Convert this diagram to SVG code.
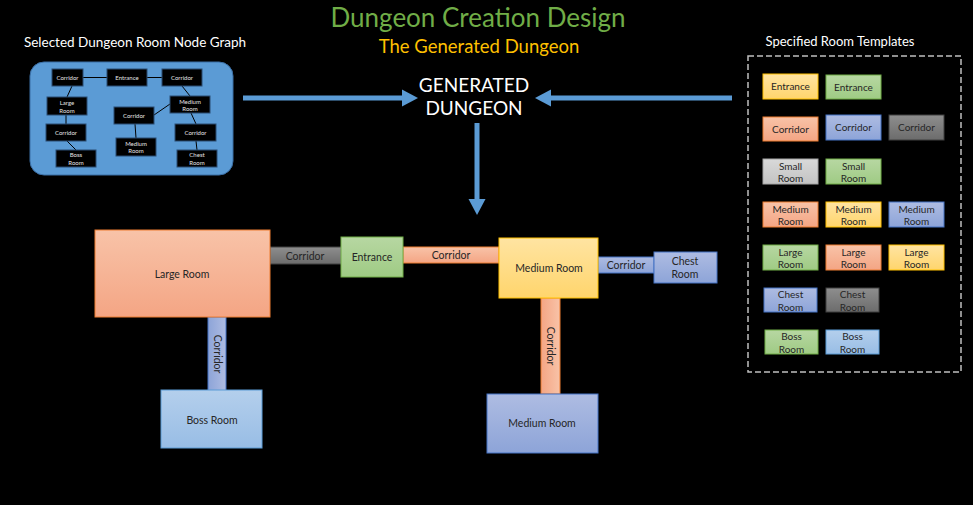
<svg xmlns="http://www.w3.org/2000/svg" width="973" height="505" viewBox="0 0 973 505">
<defs>
<linearGradient id="gOr" x1="0" y1="0" x2="0" y2="1"><stop offset="0" stop-color="#F8C3A8"/><stop offset="1" stop-color="#F4A584"/></linearGradient>
<linearGradient id="gGr" x1="0" y1="0" x2="0" y2="1"><stop offset="0" stop-color="#B7D7A2"/><stop offset="1" stop-color="#9FCB84"/></linearGradient>
<linearGradient id="gYe" x1="0" y1="0" x2="0" y2="1"><stop offset="0" stop-color="#FFE4A2"/><stop offset="1" stop-color="#FFD56C"/></linearGradient>
<linearGradient id="gBl" x1="0" y1="0" x2="0" y2="1"><stop offset="0" stop-color="#AEBCE2"/><stop offset="1" stop-color="#8DA4D8"/></linearGradient>
<linearGradient id="gLb" x1="0" y1="0" x2="0" y2="1"><stop offset="0" stop-color="#B4CFEC"/><stop offset="1" stop-color="#98BDE5"/></linearGradient>
<linearGradient id="gDg" x1="0" y1="0" x2="0" y2="1"><stop offset="0" stop-color="#8E8E8E"/><stop offset="1" stop-color="#6C6C6C"/></linearGradient>
<linearGradient id="gLg" x1="0" y1="0" x2="0" y2="1"><stop offset="0" stop-color="#D9D9D9"/><stop offset="1" stop-color="#C3C3C3"/></linearGradient>
<linearGradient id="gBlV" x1="0" y1="0" x2="1" y2="0"><stop offset="0" stop-color="#8DA4D8"/><stop offset="1" stop-color="#AEBCE2"/></linearGradient>
<linearGradient id="gOrV" x1="0" y1="0" x2="1" y2="0"><stop offset="0" stop-color="#F4A584"/><stop offset="1" stop-color="#F8C3A8"/></linearGradient>
<marker id="ah" markerUnits="userSpaceOnUse" markerWidth="16" markerHeight="17" refX="0" refY="8.5" orient="auto" overflow="visible">
<path d="M0,0 L16,8.5 L0,17 Z" fill="#5B9BD5"/>
</marker>
</defs>
<style>
text{font-family:Lato,"Open Sans","Liberation Sans",sans-serif;}
.t{font-size:10px;fill:#262626;text-anchor:middle;}
.m{font-size:10.5px;fill:#262626;text-anchor:middle;}
.n{font-size:6px;fill:#E6E6E6;text-anchor:middle;}
.nb{fill:#000;stroke:#2B4C73;stroke-width:1;}
.or{fill:url(#gOr);stroke:#ED7D31;stroke-width:1;}
.gr{fill:url(#gGr);stroke:#70AD47;stroke-width:1;}
.ye{fill:url(#gYe);stroke:#FFC000;stroke-width:1;}
.bl{fill:url(#gBl);stroke:#4472C4;stroke-width:1;}
.lb{fill:url(#gLb);stroke:#5B9BD5;stroke-width:1;}
.dg{fill:url(#gDg);stroke:#404040;stroke-width:1;}
.lg{fill:url(#gLg);stroke:#A5A5A5;stroke-width:1;}
.arr{stroke:#5B9BD5;stroke-width:5;fill:none;marker-end:url(#ah);}
.gl{stroke:#000;stroke-width:1;fill:none;}
</style>
<rect width="973" height="505" fill="#000"/>

<g id="titles">
<text x="478" y="27" font-size="26" fill="#70AD47" text-anchor="middle">Dungeon Creation Design</text>
<text x="479" y="53" font-size="18.5" fill="#FFC000" text-anchor="middle">The Generated Dungeon</text>
<text x="135" y="47" font-size="13.5" fill="#FFFFFF" text-anchor="middle">Selected Dungeon Room Node Graph</text>
<text x="840" y="46" font-size="13" fill="#FFFFFF" text-anchor="middle">Specified Room Templates</text>
</g>

<g id="generated-dungeon">
<text x="474" y="92" font-size="19" fill="#FFFFFF" text-anchor="middle">GENERATED</text>
<text x="474" y="115" font-size="19" fill="#FFFFFF" text-anchor="middle">DUNGEON</text>
</g>

<g id="connectors">
<line class="arr" x1="243" y1="98" x2="402" y2="98"/>
<line class="arr" x1="732" y1="98" x2="551" y2="98"/>
<line class="arr" x1="477" y1="123" x2="477" y2="199"/>
</g>

<g id="node-graph">
<rect x="30" y="62" width="203" height="113" rx="14" fill="#5B9BD5" stroke="#3A6EA5" stroke-width="1"/>
<g id="graph-edges">
<line class="gl" x1="83" y1="77.5" x2="107" y2="77.5"/>
<line class="gl" x1="147" y1="77.5" x2="162" y2="77.5"/>
<line class="gl" x1="72" y1="86" x2="67" y2="97"/>
<line class="gl" x1="66" y1="115" x2="66" y2="124"/>
<line class="gl" x1="67" y1="141" x2="76" y2="150"/>
<line class="gl" x1="182" y1="86" x2="190" y2="96"/>
<line class="gl" x1="170" y1="104" x2="154" y2="115"/>
<line class="gl" x1="135" y1="124" x2="136" y2="138"/>
<line class="gl" x1="191" y1="113" x2="196" y2="124"/>
<line class="gl" x1="196" y1="141" x2="197" y2="150"/>
</g>
<g id="g-corridor1"><rect class="nb" x="52" y="69" width="31" height="17"/><text class="n" x="67.5" y="79.5">Corridor</text></g>
<g id="g-entrance"><rect class="nb" x="107" y="69" width="40" height="17"/><text class="n" x="127" y="79.5">Entrance</text></g>
<g id="g-corridor2"><rect class="nb" x="162" y="69" width="40" height="17"/><text class="n" x="182" y="79.5">Corridor</text></g>
<g id="g-large"><rect class="nb" x="47" y="97" width="40" height="18"/><text class="n" x="67" y="104.5">Large</text><text class="n" x="67" y="112.5">Room</text></g>
<g id="g-corridor3"><rect class="nb" x="46" y="124" width="40" height="17"/><text class="n" x="66" y="134.5">Corridor</text></g>
<g id="g-boss"><rect class="nb" x="56" y="150" width="40" height="17"/><text class="n" x="76" y="157">Boss</text><text class="n" x="76" y="165">Room</text></g>
<g id="g-medium1"><rect class="nb" x="170" y="96" width="40" height="17"/><text class="n" x="190" y="103.5">Medium</text><text class="n" x="190" y="110.5">Room</text></g>
<g id="g-corridor4"><rect class="nb" x="114" y="107" width="40" height="17"/><text class="n" x="134" y="117.5">Corridor</text></g>
<g id="g-medium2"><rect class="nb" x="116" y="138" width="40" height="18"/><text class="n" x="136" y="145.5">Medium</text><text class="n" x="136" y="152.5">Room</text></g>
<g id="g-corridor5"><rect class="nb" x="175" y="124" width="41" height="17"/><text class="n" x="195.5" y="134.5">Corridor</text></g>
<g id="g-chest"><rect class="nb" x="177" y="150" width="40" height="17"/><text class="n" x="197" y="157">Chest</text><text class="n" x="197" y="165">Room</text></g>
</g>

<g id="templates">
<rect x="748" y="56" width="213" height="316" fill="none" stroke="#BFBFBF" stroke-width="1.5" stroke-dasharray="6 3"/>
<g id="t-entrance-ye"><rect class="ye" x="763" y="74" width="55" height="25"/><text class="t" x="790.5" y="90">Entrance</text></g>
<g id="t-entrance-gr"><rect class="gr" x="826" y="75" width="55" height="24"/><text class="t" x="853.5" y="91">Entrance</text></g>
<g id="t-corridor-or"><rect class="or" x="763" y="117" width="55" height="24"/><text class="t" x="790.5" y="132.5">Corridor</text></g>
<g id="t-corridor-bl"><rect class="bl" x="826" y="115" width="55" height="25"/><text class="t" x="853.5" y="131">Corridor</text></g>
<g id="t-corridor-dg"><rect class="dg" x="889" y="115" width="55" height="25"/><text class="t" x="916.5" y="131">Corridor</text></g>
<g id="t-small-lg"><rect class="lg" x="763" y="159" width="55" height="25"/><text class="t" x="790.5" y="169.5">Small</text><text class="t" x="790.5" y="182">Room</text></g>
<g id="t-small-gr"><rect class="gr" x="826" y="159" width="55" height="25"/><text class="t" x="853.5" y="169.5">Small</text><text class="t" x="853.5" y="182">Room</text></g>
<g id="t-medium-or"><rect class="or" x="763" y="202" width="55" height="25"/><text class="t" x="790.5" y="212.5">Medium</text><text class="t" x="790.5" y="224.5">Room</text></g>
<g id="t-medium-ye"><rect class="ye" x="826" y="202" width="55" height="25"/><text class="t" x="853.5" y="212.5">Medium</text><text class="t" x="853.5" y="224.5">Room</text></g>
<g id="t-medium-bl"><rect class="bl" x="889" y="202" width="55" height="25"/><text class="t" x="916.5" y="212.5">Medium</text><text class="t" x="916.5" y="224.5">Room</text></g>
<g id="t-large-gr"><rect class="gr" x="763" y="245" width="55" height="25"/><text class="t" x="790.5" y="255.5">Large</text><text class="t" x="790.5" y="267.5">Room</text></g>
<g id="t-large-or"><rect class="or" x="826" y="245" width="55" height="25"/><text class="t" x="853.5" y="255.5">Large</text><text class="t" x="853.5" y="267.5">Room</text></g>
<g id="t-large-ye"><rect class="ye" x="889" y="245" width="55" height="25"/><text class="t" x="916.5" y="255.5">Large</text><text class="t" x="916.5" y="267.5">Room</text></g>
<g id="t-chest-bl"><rect class="bl" x="764" y="288" width="53" height="24"/><text class="t" x="790.5" y="298">Chest</text><text class="t" x="790.5" y="310.5">Room</text></g>
<g id="t-chest-dg"><rect class="dg" x="826" y="288" width="53" height="24"/><text class="t" x="852.5" y="298">Chest</text><text class="t" x="852.5" y="310.5">Room</text></g>
<g id="t-boss-gr"><rect class="gr" x="765" y="330" width="53" height="24"/><text class="t" x="791.5" y="340">Boss</text><text class="t" x="791.5" y="352.5">Room</text></g>
<g id="t-boss-lb"><rect class="lb" x="826" y="330" width="53" height="24"/><text class="t" x="852.5" y="340">Boss</text><text class="t" x="852.5" y="352.5">Room</text></g>
</g>

<g id="dungeon">
<g id="d-corridor-gray"><rect class="dg" x="270" y="247" width="72" height="17"/><text class="m" x="305" y="259.5">Corridor</text></g>
<g id="d-corridor-orange"><rect class="or" x="403" y="247" width="96" height="16"/><text class="m" x="451" y="259">Corridor</text></g>
<g id="d-corridor-blue-h"><rect class="bl" x="598" y="257" width="56" height="16"/><text class="m" x="626" y="269">Corridor</text></g>
<g id="d-corridor-blue-v"><rect x="208" y="317" width="18" height="74" fill="url(#gBlV)" stroke="#4472C4" stroke-width="1"/><text class="m" transform="translate(213.5,354) rotate(90)" x="0" y="0">Corridor</text></g>
<g id="d-corridor-orange-v"><rect x="541" y="298" width="19" height="96" fill="url(#gOrV)" stroke="#ED7D31" stroke-width="1"/><text class="m" transform="translate(546.5,346) rotate(90)" x="0" y="0">Corridor</text></g>
<g id="d-large-room"><rect class="or" x="95" y="230" width="175" height="87" stroke="#5a3a2a"/><text class="m" x="182" y="277.5">Large Room</text></g>
<g id="d-entrance"><rect class="gr" x="341" y="237" width="62" height="40"/><text class="m" x="372" y="260.5">Entrance</text></g>
<g id="d-medium-room-ye"><rect class="ye" x="499" y="238" width="99" height="60"/><text class="m" x="549" y="271.5">Medium Room</text></g>
<g id="d-chest-room"><rect class="bl" x="654" y="252" width="63" height="31"/><text class="m" x="685" y="265">Chest</text><text class="m" x="685" y="278">Room</text></g>
<g id="d-boss-room"><rect class="lb" x="161" y="390" width="101" height="58"/><text class="m" x="212" y="423.5">Boss Room</text></g>
<g id="d-medium-room-bl"><rect class="bl" x="487" y="394" width="111" height="59"/><text class="m" x="542" y="427">Medium Room</text></g>
</g>
</svg>
